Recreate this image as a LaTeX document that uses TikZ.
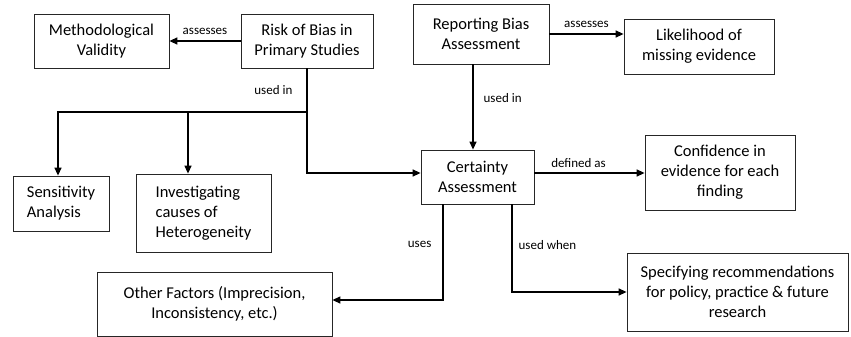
\documentclass[tikz,border=0pt]{standalone}
\usepackage{fontspec}
\setmainfont{Carlito}
\usetikzlibrary{arrows.meta, positioning, calc}

\tikzset{
	box/.style={draw=black!85, line width=0.8pt, align=center, inner sep=0pt,
		font=\fontsize{16.5}{20}\selectfont},
	link/.style={line width=1.3pt, -{Triangle[length=8pt,width=7pt]}},
	tag/.style={font=\fontsize{13}{15}\selectfont, inner sep=2pt}
}

\begin{document}
\begin{tikzpicture}[x=1pt, y=-1pt]
	\useasboundingbox (0,0) rectangle (851,337);

	% Define nodes
	\node (meth) [box, minimum width=135, minimum height=54] at (101.5,41) {Methodological\\Validity};
	\node (risk) [box, minimum width=132, minimum height=54] at (307,41) {Risk of Bias in\\Primary Studies};
	\node (report) [box, minimum width=136, minimum height=60] at (481,34) {Reporting Bias\\Assessment};
	\node (likely) [box, minimum width=150, minimum height=55] at (699,46.5) {Likelihood of\\missing evidence};
	\node (cert) [box, minimum width=113, minimum height=54] at (477.5,177) {Certainty\\Assessment};
	\node (conf) [box, minimum width=150, minimum height=75] at (720,172.5) {Confidence in\\evidence for each\\finding};
	\node (sens) [box, align=left, minimum width=96, minimum height=55] at (61,203.5) {Sensitivity\\Analysis};
	\node (invest) [box, align=left, minimum width=135, minimum height=78] at (203.5,213) {Investigating\\causes of\\Heterogeneity};
	\node (other) [box, minimum width=235, minimum height=64] at (214.5,304) {Other Factors (Imprecision,\\Inconsistency, etc.)};
	\node (spec) [box, minimum width=221, minimum height=78] at (737.5,292) {Specifying recommendations\\for policy, practice \& future\\research};
	\coordinate (split) at (307,112);

	% Risk of bias links
	\draw[link] (risk) -- node[tag, above=4pt] {assesses} (meth);
	\draw[line width=1.3pt] (risk.south) -- node[tag, left=12pt] {used in} (split);
	\draw[link] (split) -| ([xshift=-3pt]sens.north);
	\draw[link] (split) -| ([xshift=-15.5pt]invest.north);
	\draw[link] (split) |- ([yshift=4pt]cert.west);

	% Reporting bias links
	\draw[link] (report.east) -- node[tag, above=4pt] {assesses} (likely.west |- report.east);
	\draw[link] ([xshift=-8pt]report.south) -- node[tag, right=8pt, pos=0.4] {used in} ([xshift=-4.5pt]cert.north);

	% Certainty links
	\draw[link] ([yshift=4pt]cert.east) -- node[tag, above=3pt, pos=0.4] {defined as} ([yshift=4pt]cert.east -| conf.west);
	\draw[link] ([xshift=-34.5pt]cert.south) |- node[tag, left=9pt, pos=0.21] {uses} ([yshift=4pt]other.east);
	\draw[link] ([xshift=34.5pt]cert.south) |- node[tag, right=4pt, pos=0.23] {used when} (spec.west);
\end{tikzpicture}
\end{document}
